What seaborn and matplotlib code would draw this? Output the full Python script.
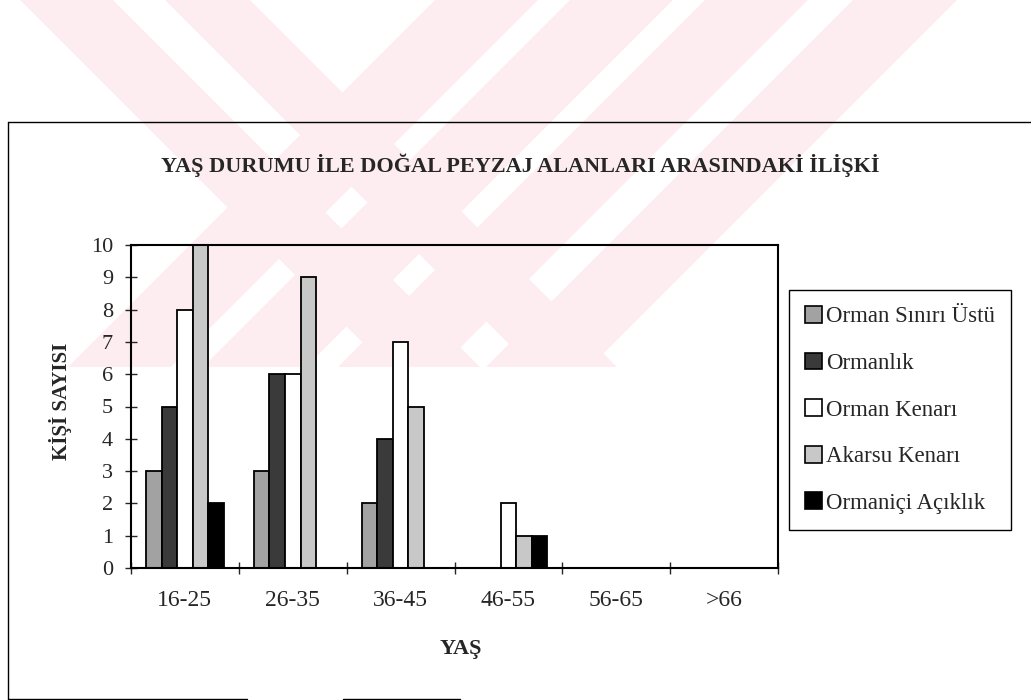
import pandas as pd
import seaborn as sns
import matplotlib.pyplot as plt
from matplotlib.lines import Line2D
from matplotlib.patches import Patch, Polygon

#------------------------------------------------------------------------------------

age_groups = ["16-25", "26-35", "36-45", "46-55", "56-65", ">66"]
series_names = ["Orman Sınırı Üstü", "Ormanlık", "Orman Kenarı",
                "Akarsu Kenarı", "Ormaniçi Açıklık"]
orman_siniri_ustu = [3, 3, 2, 0, 0, 0]
ormanlik = [5, 6, 4, 0, 0, 0]
orman_kenari = [8, 6, 7, 2, 0, 0]
akarsu_kenari = [10, 9, 5, 1, 0, 0]
ormanici_aciklik = [2, 0, 0, 1, 0, 0]
y_ticks = list(range(0, 11))

series_colors = ["#a2a2a2", "#3a3a3a", "#ffffff", "#c8c8c8", "#000000"]

#------------------------------------------------------------------------------------

W, H = 1031, 700


def fx(px):
    return px / W


def fy(py):
    return 1 - py / H


sns.set_style("white")
plt.rcParams['font.family'] = ['Liberation Serif', 'DejaVu Serif']

df = pd.DataFrame({
    "age": age_groups * 5,
    "count": orman_siniri_ustu + ormanlik + orman_kenari + akarsu_kenari + ormanici_aciklik,
    "series": [s for s in series_names for _ in age_groups],
})

fig = plt.figure(figsize=(W / 100, H / 100), dpi=100)

# faint watermark stripes in the background
wm_color = "#fdedf0"
for x0, x1 in [(20, 113), (165, 250)]:
    fig.add_artist(Polygon([(fx(x0), fy(0)), (fx(x1), fy(0)), (fx(x1 + 367), fy(367)),
                            (fx(x0 + 367), fy(367))], closed=True, transform=fig.transFigure,
                           fc=wm_color, ec="none", zorder=0))
for x0, x1 in [(435, 538), (570, 673), (705, 808), (853, 957)]:
    fig.add_artist(Polygon([(fx(x0), fy(0)), (fx(x1), fy(0)), (fx(x1 - 367), fy(367)),
                            (fx(x0 - 367), fy(367))], closed=True, transform=fig.transFigure,
                           fc=wm_color, ec="none", zorder=0))

# outer chart frame (bottom edge only partly visible, as in the scan)
frame_lines = [
    ([8, 8], [122, 699]),
    ([8, 1031], [122, 122]),
    ([8, 247], [699, 699]),
    ([343, 460], [699, 699]),
]
for xs, ys in frame_lines:
    fig.add_artist(Line2D([fx(v) for v in xs], [fy(v) for v in ys],
                          transform=fig.transFigure, color="black", lw=1.0, zorder=1))

ax = fig.add_axes([fx(131), fy(568), fx(778) - fx(131), fy(245) - fy(568)])
ax.patch.set_alpha(0)

sns.barplot(
    data=df, x="age", y="count", hue="series", order=age_groups,
    hue_order=series_names, palette=series_colors, width=0.72,
    edgecolor="black", linewidth=1.3, saturation=1, legend=False, ax=ax
)

ax.set_xlim(-0.5, len(age_groups) - 0.5)
ax.set_ylim(0, 10)
ax.set_yticks(y_ticks)
ax.tick_params(axis="y", direction="inout", length=8, width=1, pad=9,
               labelsize=16, left=True)
ax.set_xticks(range(len(age_groups)))
ax.set_xticklabels(age_groups)
ax.set_xticks([i - 0.5 for i in range(len(age_groups) + 1)], minor=True)
ax.tick_params(axis="x", which="major", length=0, pad=16, labelsize=17)
ax.tick_params(axis="x", which="minor", direction="inout", length=9, width=1, bottom=True)

for sp in ax.spines.values():
    sp.set_visible(True)
    sp.set_color("black")
    sp.set_linewidth(1.5)

ax.set_xlabel("YAŞ", fontsize=16, fontweight="bold")
ax.xaxis.set_label_coords(0.51, -0.22)
ax.set_ylabel("KİŞİ SAYISI", fontsize=15, fontweight="bold")
ax.yaxis.set_label_coords(-0.091, 0.517)

fig.text(fx(520), fy(165), "YAŞ DURUMU İLE DOĞAL PEYZAJ ALANLARI ARASINDAKİ İLİŞKİ",
         ha="center", va="center", fontsize=16, fontweight="bold")

handles = [Patch(fc=c, ec="black", lw=1.2, label=n) for c, n in zip(series_colors, series_names)]
fig.legend(
    handles=handles, loc="upper left", bbox_to_anchor=(fx(789), fy(290)),
    bbox_transform=fig.transFigure, borderaxespad=0, fontsize=16.5,
    frameon=True, fancybox=False, edgecolor="black", framealpha=1,
    handlelength=0.75, handleheight=0.75, handletextpad=0.17,
    labelspacing=1.1, borderpad=0.7
)
fig.legends[0].get_frame().set_linewidth(1.0)

fig.savefig("out.png", dpi=100)
